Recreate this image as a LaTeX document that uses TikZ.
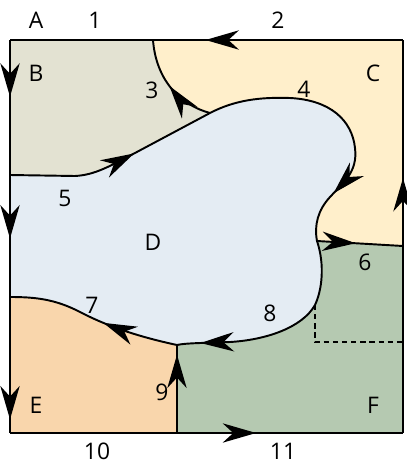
\documentclass[tikz,border=0pt]{standalone}
\usepackage{fontspec}
\setmainfont{Open Sans}
\usetikzlibrary{arrows.meta, decorations.markings}
\definecolor{RegB}{HTML}{E3E2D2}
\definecolor{RegC}{HTML}{FFEFCB}
\definecolor{RegD}{HTML}{E4ECF3}
\definecolor{RegE}{HTML}{F9D6AC}
\definecolor{RegF}{HTML}{B5C9B1}
% boundary curves, without their start point
\newcommand{\cThree}{.. controls (180,105) and (156,80) .. (153,40)}
\newcommand{\cFive}{-- (75,176) .. controls (95,175) and (110,166) .. (135,153) -- (210,113)}
\newcommand{\cFour}{.. controls (235,100) and (260,97) .. (290,98) .. controls (330,100) and (352,120) .. (355,148) .. controls (358,172) and (343,183) .. (330,197) .. controls (318,210) and (314,225) .. (317,241)}
\newcommand{\cEight}{.. controls (325,265) and (322,290) .. (315,305) .. controls (302,328) and (265,340) .. (230,342) .. controls (205,343) and (185,343) .. (177,345)}
\newcommand{\cSeven}{.. controls (135,336) and (105,325) .. (80,312) .. controls (55,299) and (35,297) .. (10,297)}

\begin{document}
\begin{tikzpicture}[x=0.02cm, y=-0.02cm, >=Stealth,
        border/.style={line width=1.1pt, black},
        arr/.style={postaction={decorate}, decoration={markings,
            mark=at position #1 with {\arrow{Stealth[length=19pt, width=11pt, inset=6pt]}}}},
        lbl/.style={font=\fontsize{13}{15}\selectfont, inner sep=0pt}]
        \useasboundingbox (0,0) rectangle (406,463);

        \coordinate (tl) at (10,40);
        \coordinate (tr) at (403,40);
        \coordinate (br) at (403,433);
        \coordinate (bl) at (10,433);
        \coordinate (bc) at (153,40);
        \coordinate (j1) at (210,113);
        \coordinate (j2) at (10,175);
        \coordinate (j3) at (317,241);
        \coordinate (j4) at (403,246);
        \coordinate (j5) at (177,345);
        \coordinate (j6) at (10,297);
        \coordinate (j7) at (177,433);
        \coordinate (dk) at (315,305);
        \coordinate (dc) at (315,342);
        \coordinate (dr) at (403,342);

        % regions
        \fill[RegC] (tl) rectangle (br);
        \fill[RegF] (j3) \cEight -- (j7) -- (br) -- (j4) -- cycle;
        \fill[RegE] (j5) \cSeven -- (bl) -- (j7) -- cycle;
        \fill[RegB] (j2) \cFive \cThree -- (tl) -- cycle;
        \fill[RegD] (j1) \cFour \cEight \cSeven -- (j2) \cFive -- cycle;

        % outer edge
        \draw[border, arr=0.79] (tr) -- (bc);
        \draw[border] (bc) -- (tl);
        \draw[border, arr=0.42] (tl) -- (j2);
        \draw[border, arr=0.52] (j2) -- (j6);
        \draw[border, arr=0.90] (j6) -- (bl);
        \draw[border] (bl) -- (j7);
        \draw[border, arr=0.35] (j7) -- (br);
        \draw[border] (br) -- (j4);
        \draw[border, arr=0.33] (j4) -- (tr);

        % inner curves
        \draw[border, arr=0.5] (j1) \cThree;
        \draw[border, arr=0.6] (j2) \cFive;
        \draw[border, arr=0.81] (j1) \cFour;
        \draw[border, arr=0.45] (j3) -- (j4);
        \draw[border, arr=0.89] (j3) \cEight;
        \draw[border, arr=0.44] (j5) \cSeven;
        \draw[border, arr=0.89] (j7) -- (j5);
        \draw[line width=1pt, dash pattern=on 3pt off 2.2pt] (dk) -- (dc) -- (dr);

        % labels
        \node[lbl] (lA) at (36,20) {A};
        \node[lbl] (l1) at (95,20) {1};
        \node[lbl] (l2) at (278,20) {2};
        \node[lbl] (lB) at (36,73) {B};
        \node[lbl] (lC) at (373,73) {C};
        \node[lbl] (l3) at (152,90) {3};
        \node[lbl] (l4) at (304,89) {4};
        \node[lbl] (l5) at (65,198) {5};
        \node[lbl] (lD) at (153,242) {D};
        \node[lbl] (l6) at (365,262) {6};
        \node[lbl] (l7) at (92,305) {7};
        \node[lbl] (l8) at (270,313) {8};
        \node[lbl] (l9) at (162,392) {9};
        \node[lbl] (lE) at (36,405) {E};
        \node[lbl] (lF) at (373,405) {F};
        \node[lbl] (l10) at (97,451) {10};
        \node[lbl] (l11) at (283,451) {11};
    \end{tikzpicture}
\end{document}
